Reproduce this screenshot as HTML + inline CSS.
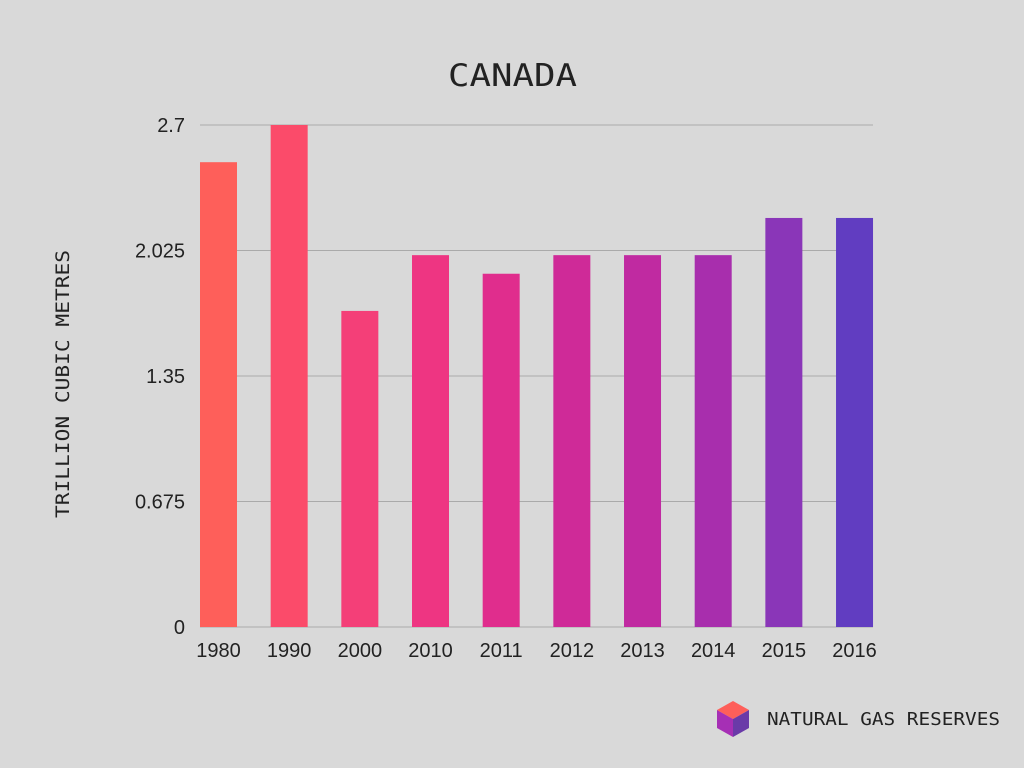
<!DOCTYPE html>
<html><head><meta charset="utf-8"><style>
body{margin:0;width:1024px;height:768px;background:#d9d9d9;overflow:hidden}
svg{display:block}
</style></head><body>
<svg width="1024" height="768" xmlns="http://www.w3.org/2000/svg">
<text x="448" y="86" textLength="129" lengthAdjust="spacingAndGlyphs" font-family="'DejaVu Sans Mono','Liberation Mono',monospace" font-size="31" fill="#222">CANADA</text>
<text transform="translate(69,518) rotate(-90)" textLength="268" lengthAdjust="spacingAndGlyphs" font-family="'DejaVu Sans Mono','Liberation Mono',monospace" font-size="19" fill="#222">TRILLION CUBIC METRES</text>
<g id="grid"></g><g id="bars"></g><g id="xl"></g>
<g>
<polygon points="733,701 749,710 733,719 717,710" fill="#fe5f5a"/>
<polygon points="717,710 733,719 733,737 717,728" fill="#a62fb5"/>
<polygon points="749,710 733,719 733,737 749,728" fill="#6a3aa8"/>
<text x="767" y="725" textLength="233" lengthAdjust="spacingAndGlyphs" font-family="'DejaVu Sans Mono','Liberation Mono',monospace" font-size="18" fill="#222">NATURAL GAS RESERVES</text>
</g>
</svg>
<script>
const categories=["1980","1990","2000","2010","2011","2012","2013","2014","2015","2016"];
const values=[2.5,2.7,1.7,2.0,1.9,2.0,2.0,2.0,2.2,2.2];
const tickValues=[0,0.675,1.35,2.025,2.7];
const tickLabels=["0","0.675","1.35","2.025","2.7"];
const colors=["#fe5f5a","#fb4b6a","#f43f78","#ee3582","#e02d8d","#cf2a98","#c02aa1","#a82ead","#8a36b8","#613dc1"];
const NS="http://www.w3.org/2000/svg";
const y0=627,yMax=2.7,yTop=125;
const y=v=>y0-(v/yMax)*(y0-yTop);
const x=i=>200+i*70.67;
const bw=37;
function mk(t,a,p){const e=document.createElementNS(NS,t);for(const k in a)e.setAttribute(k,a[k]);p.appendChild(e);return e;}
const g=document.getElementById('grid');
tickValues.forEach((v,i)=>{
  const l=mk('line',{x1:200,x2:873,y1:y(v),y2:y(v),stroke:'#aaa','stroke-width':1},g);
  
  
  const t=mk('text',{x:185,y:y(v)+7,'text-anchor':'end','font-family':'Liberation Sans, sans-serif','font-size':20,fill:'#222'},g);
  t.textContent=tickLabels[i];
  
  
});
const b=document.getElementById('bars'),xl=document.getElementById('xl');
values.forEach((v,i)=>{
  const r=mk('rect',{x:x(i),y:y(v),width:bw,height:y0-y(v),fill:colors[i]},b);
  
  
  const t=mk('text',{x:x(i)+bw/2,y:657,'text-anchor':'middle','font-family':'Liberation Sans, sans-serif','font-size':20,fill:'#222'},xl);
  t.textContent=categories[i];
  
  
});
</script>
</body></html>
